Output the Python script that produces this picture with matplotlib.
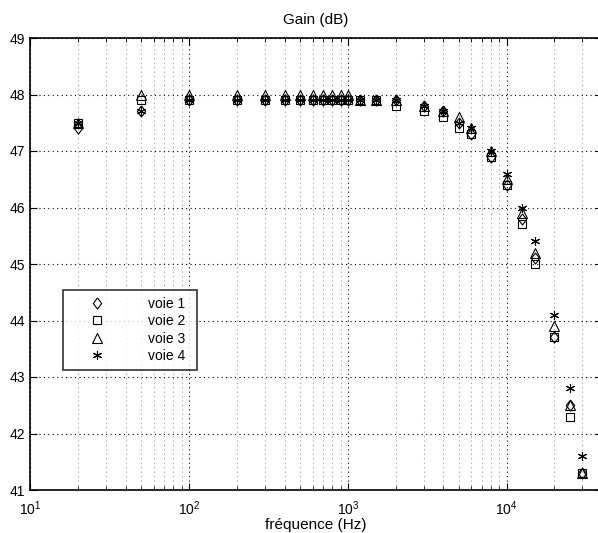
import numpy as np
import matplotlib.pyplot as plt
from matplotlib.ticker import LogLocator, NullFormatter

plt.rcParams['font.family'] = ['Liberation Sans', 'DejaVu Sans']

# frequencies (Hz)
freq = [20, 50, 100, 200, 300, 400, 500, 600, 700, 800, 900, 1000, 1200, 1500,
        2000, 3000, 4000, 5000, 6000, 8000, 10000, 12500, 15000, 20000, 25000, 30000]

# gain (dB) per channel
voie1 = [47.4, 47.7, 47.9, 47.9, 47.9, 47.9, 47.9, 47.9, 47.9, 47.9, 47.9, 47.9, 47.9, 47.9,
         47.9, 47.8, 47.7, 47.5, 47.3, 46.9, 46.4, 45.8, 45.1, 43.7, 42.5, 41.3]
voie2 = [47.5, 47.9, 47.9, 47.9, 47.9, 47.9, 47.9, 47.9, 47.9, 47.9, 47.9, 47.9, 47.9, 47.9,
         47.8, 47.7, 47.6, 47.4, 47.3, 46.9, 46.4, 45.7, 45.0, 43.7, 42.3, 41.3]
voie3 = [47.5, 48.0, 48.0, 48.0, 48.0, 48.0, 48.0, 48.0, 48.0, 48.0, 48.0, 48.0, 47.9, 47.9,
         47.9, 47.8, 47.7, 47.6, 47.4, 47.0, 46.5, 45.9, 45.2, 43.9, 42.5, 41.3]
voie4 = [47.5, 47.7, 47.9, 47.9, 47.9, 47.9, 47.9, 47.9, 47.9, 47.9, 47.9, 47.9, 47.9, 47.9,
         47.9, 47.8, 47.7, 47.5, 47.4, 47.0, 46.6, 46.0, 45.4, 44.1, 42.8, 41.6]

labels = ['voie 1', 'voie 2', 'voie 3', 'voie 4']

fig = plt.figure(figsize=(5.98, 5.33), dpi=100)
ax = fig.add_axes([30 / 598, 43 / 533, 572 / 598, 452 / 533])

# matlab style diamond, a little taller than wide
diamond = [(0, 1), (0.75, 0), (0, -1), (-0.75, 0), (0, 1)]
star = (6, 2, 0)
ax.plot(freq, voie1, marker=diamond, ms=8, mfc='none', mec='black', mew=0.8, ls='none', label=labels[0])
ax.plot(freq, voie2, 's', ms=5.5, mfc='none', mec='black', mew=0.8, ls='none', label=labels[1])
ax.plot(freq, voie3, '^', ms=6.5, mfc='none', mec='black', mew=0.8, ls='none', label=labels[2])
ax.plot(freq, voie4, marker=star, ms=6.5, color='black', mew=0.8, ls='none', label=labels[3])

ax.set_xscale('log')
ax.set_xlim(10, 10 ** 4.6)
ax.set_ylim(41, 49)
ax.set_yticks(np.arange(41, 50, 1))
ax.xaxis.set_major_locator(LogLocator(base=10, numticks=10))
ax.xaxis.set_minor_locator(LogLocator(base=10, subs=np.arange(2, 10), numticks=20))
ax.xaxis.set_minor_formatter(NullFormatter())

ax.grid(True, which='major', ls=(0, (1, 3)), color='black', lw=0.8)
ax.grid(True, which='minor', axis='x', ls=(0, (1, 3)), color='#999999', lw=0.8)

ax.tick_params(which='both', direction='in', top=True, right=True, labelsize=10)
ax.tick_params(which='major', length=5)
ax.tick_params(which='minor', length=3)
ax.tick_params(axis='x', which='major', pad=7)
for s in ax.spines.values():
    s.set_linewidth(1.2)

ax.set_title('Gain (dB)', fontsize=11, pad=10)
ax.set_xlabel('fréquence (Hz)', fontsize=11, labelpad=0)

leg = ax.legend(loc='lower left', bbox_to_anchor=(0.058, 0.265, 0.234, 0.18),
                mode='expand', frameon=True, fancybox=False, fontsize=10,
                numpoints=1, handlelength=3.9, handletextpad=1.7, borderpad=0.5,
                labelspacing=0.25, borderaxespad=0)
leg.get_frame().set_edgecolor('black')
leg.get_frame().set_linewidth(1.2)

fig.savefig('out.png', dpi=100)
